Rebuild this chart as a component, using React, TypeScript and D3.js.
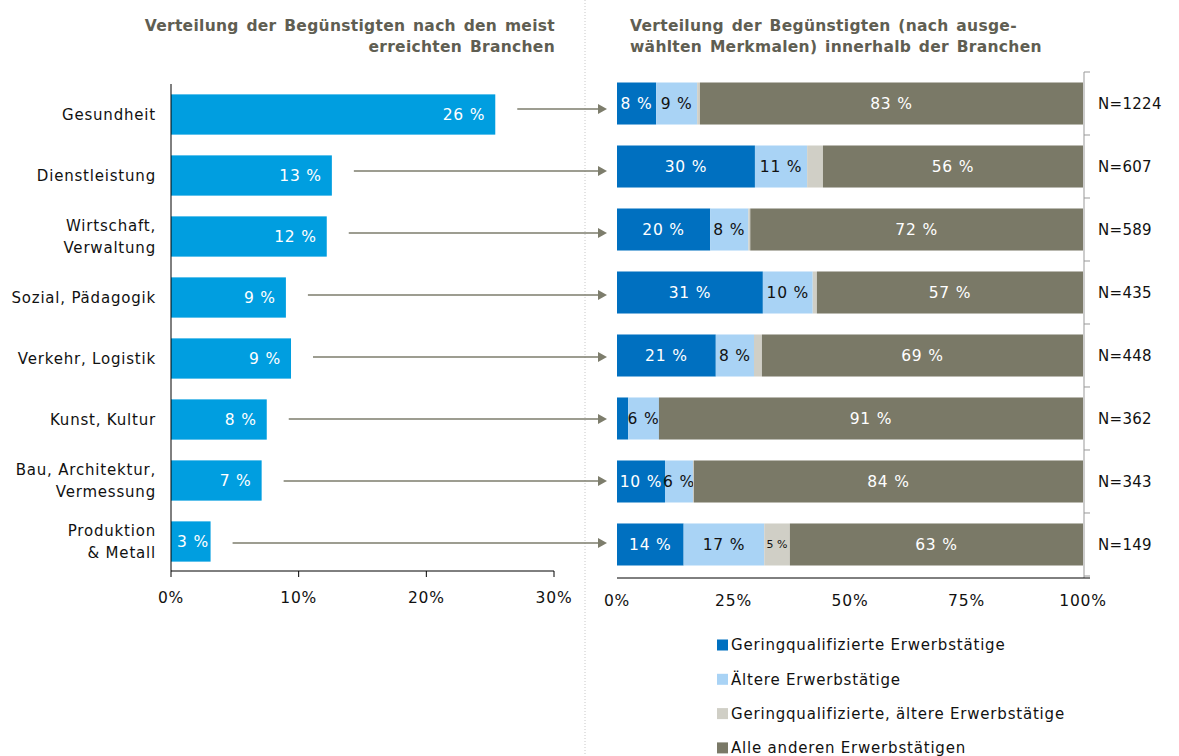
import * as d3 from 'd3';

const categories = [
  ['Gesundheit'],
  ['Dienstleistung'],
  ['Wirtschaft,', 'Verwaltung'],
  ['Sozial, Pädagogik'],
  ['Verkehr, Logistik'],
  ['Kunst, Kultur'],
  ['Bau, Architektur,', 'Vermessung'],
  ['Produktion', '& Metall'],
];
const keys = categories.map((c) => c.join(' '));

// left chart: share of beneficiaries per sector (%)
const shares = [25.4, 12.6, 12.2, 9.0, 9.4, 7.5, 7.1, 3.1];
const shareLabels = ['26 %', '13 %', '12 %', '9 %', '9 %', '8 %', '7 %', '3 %'];

// right chart: composition within sectors (%)
const lowQual = [8.4, 29.6, 20.0, 31.3, 21.2, 2.4, 10.3, 14.3];
const older = [8.8, 11.2, 8.2, 10.7, 8.2, 6.6, 6.0, 17.3];
const lowQualOlder = [0.6, 3.4, 0.4, 0.9, 1.7, 0.0, 0.2, 5.5];
const others = [82.2, 55.8, 71.4, 57.1, 68.9, 91.0, 83.5, 62.9];

const lowQualLabels = ['8 %', '30 %', '20 %', '31 %', '21 %', '', '10 %', '14 %'];
const olderLabels = ['9 %', '11 %', '8 %', '10 %', '8 %', '6 %', '6 %', '17 %'];
const lowQualOlderLabels = ['', '', '', '', '', '', '', '5 %'];
const othersLabels = ['83 %', '56 %', '72 %', '57 %', '69 %', '91 %', '84 %', '63 %'];
const nLabels = ['N=1224', 'N=607', 'N=589', 'N=435', 'N=448', 'N=362', 'N=343', 'N=149'];

const leftTicks = [0, 10, 20, 30];
const rightTicks = [0, 25, 50, 75, 100];

const seriesNames = [
  'Geringqualifizierte Erwerbstätige',
  'Ältere Erwerbstätige',
  'Geringqualifizierte, ältere Erwerbstätige',
  'Alle anderen Erwerbstätigen',
];
const seriesColors = ['#0070c0', '#a9d3f5', '#d0cfc6', '#7a7967'];
const seriesText = ['#fff', '#111', '#111', '#fff'];

const W = 1179;
const H = 756;
const font = 'DejaVu Sans, Verdana, sans-serif';
const ls = 0.8;

export default function App() {
  const xL = d3.scaleLinear().domain([0, 30]).range([171, 554]);
  const yL = d3.scaleBand().domain(keys).range([84, 572]).paddingInner(0.34).paddingOuter(0.17);
  const xR = d3.scaleLinear().domain([0, 100]).range([617, 1083]);
  const yR = d3.scaleBand().domain(keys).range([72, 576]).paddingInner(0.333).paddingOuter(0.1667);

  const series = [lowQual, older, lowQualOlder, others];
  const seriesLabels = [lowQualLabels, olderLabels, lowQualOlderLabels, othersLabels];
  const stacked = d3
    .stack<number>()
    .keys(['0', '1', '2', '3'])
    .value((i, k) => series[+k][i])(d3.range(keys.length));

  const arrowColor = '#7d7d6c';

  return (
    <svg width={W} height={H} style={{ display: 'block', position: 'absolute', left: 0, top: 0 }} fontFamily={font}>
      <rect width={W} height={H} fill="#fff" />
      {/* separator */}
      <line x1={585} x2={585} y1={0} y2={H} stroke="#c8c8c8" strokeDasharray="1,2" />

      {/* titles */}
      <g fontWeight="bold" fontSize={15.5} fill="#5f5e52" wordSpacing={2} letterSpacing={0.3}>
        <text x={555} y={31} textAnchor="end">Verteilung der Begünstigten nach den meist</text>
        <text x={555} y={52} textAnchor="end">erreichten Branchen</text>
        <text x={630} y={31}>Verteilung der Begünstigten (nach ausge-</text>
        <text x={630} y={52}>wählten Merkmalen) innerhalb der Branchen</text>
      </g>

      {/* left chart */}
      {keys.map((k, i) => {
        const narrow = xL(shares[i]) - xL(0) < 50;
        return (
          <g key={k}>
            <rect
              x={xL(0)}
              y={yL(k)}
              width={xL(shares[i]) - xL(0)}
              height={yL.bandwidth()}
              fill="#009ee0"
            />
            <text
              x={narrow ? xL(0) + 6 : xL(shares[i]) - 10}
              y={yL(k)! + yL.bandwidth() / 2}
              dy="0.35em"
              textAnchor={narrow ? 'start' : 'end'}
              fill="#fff"
              fontSize={15.5}
              letterSpacing={ls}
            >
              {shareLabels[i]}
            </text>
            {categories[i].map((line, j) => (
              <text
                key={j}
                x={156}
                y={yL(k)! + yL.bandwidth() / 2 + (j - (categories[i].length - 1) / 2) * 22}
                dy="0.35em"
                textAnchor="end"
                fontSize={15}
                fill="#111"
                letterSpacing={ls}
              >
                {line}
              </text>
            ))}
          </g>
        );
      })}
      <line x1={xL(0)} x2={xL(0)} y1={84} y2={571} stroke="#000" />
      <line x1={xL(0)} x2={xL(30)} y1={571} y2={571} stroke="#000" />
      {leftTicks.map((t) => (
        <g key={t}>
          <line x1={xL(t)} x2={xL(t)} y1={571} y2={577} stroke="#000" />
          <text x={xL(t)} y={598} dy="0.35em" textAnchor="middle" fontSize={15.5} fill="#111" letterSpacing={ls}>
            {t}%
          </text>
        </g>
      ))}

      {/* arrows */}
      {keys.map((k, i) => {
        const y = (yL(k)! + yL.bandwidth() / 2 + yR(k)! + yR.bandwidth() / 2) / 2;
        const x0 = xL(shares[i]) + 22;
        return (
          <g key={k}>
            <line x1={x0} x2={598} y1={y} y2={y} stroke={arrowColor} strokeWidth={1.5} />
            <path d={`M598,${y - 5}L607,${y}L598,${y + 5}Z`} fill={arrowColor} />
          </g>
        );
      })}

      {/* right chart */}
      {stacked.map((s, si) => (
        <g key={si}>
          {s.map((d, i) => {
            const k = keys[i];
            const x0 = xR(d[0]);
            const w = xR(d[1]) - xR(d[0]);
            const label = seriesLabels[si][i];
            return (
              <g key={k}>
                {w > 0 && <rect x={x0} y={yR(k)} width={w} height={yR.bandwidth()} fill={seriesColors[si]} />}
                {label && (
                  <text
                    x={x0 + w / 2}
                    y={yR(k)! + yR.bandwidth() / 2}
                    dy="0.35em"
                    textAnchor="middle"
                    fontSize={si === 2 ? 11 : 15.5}
                    fill={seriesText[si]}
                    letterSpacing={si === 2 ? 0 : ls}
                  >
                    {label}
                  </text>
                )}
              </g>
            );
          })}
        </g>
      ))}
      <line x1={1084} x2={1084} y1={72} y2={578} stroke="#999" />
      {keys.map((k) => (
        <line key={k} x1={1084} x2={1090} y1={yR(k)! - (yR.step() - yR.bandwidth()) / 2} y2={yR(k)! - (yR.step() - yR.bandwidth()) / 2} stroke="#999" />
      ))}
      <line x1={1084} x2={1090} y1={576} y2={576} stroke="#999" />
      <line x1={617} x2={1090} y1={578} y2={578} stroke="#000" />
      {rightTicks.map((t) => (
        <text key={t} x={xR(t)} y={601} dy="0.35em" textAnchor="middle" fontSize={15.5} fill="#111" letterSpacing={ls}>
          {t}%
        </text>
      ))}
      {keys.map((k, i) => (
        <text key={k} x={1098} y={yR(k)! + yR.bandwidth() / 2} dy="0.35em" fontSize={15} fill="#111" letterSpacing={0.3}>
          {nLabels[i]}
        </text>
      ))}

      {/* legend */}
      {seriesNames.map((n, i) => (
        <g key={n} transform={`translate(717,${645 + i * 34.3})`}>
          <rect x={0} y={-5.5} width={11} height={11} fill={seriesColors[i]} />
          <text x={14} y={0} dy="0.35em" fontSize={15} fill="#111" letterSpacing={ls}>
            {n}
          </text>
        </g>
      ))}
    </svg>
  );
}
